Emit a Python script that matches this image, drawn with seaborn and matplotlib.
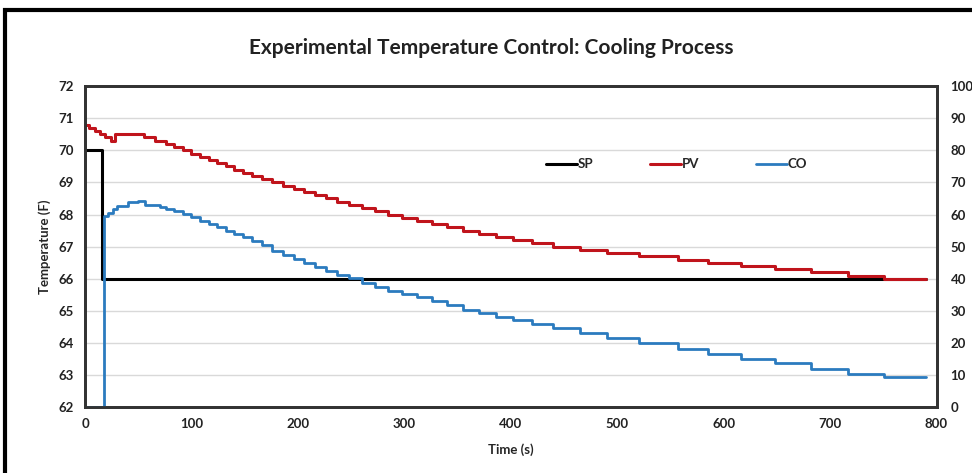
import matplotlib
matplotlib.use("Agg")
import matplotlib.pyplot as plt
import seaborn as sns
import pandas as pd
from matplotlib.lines import Line2D
from matplotlib.patches import Rectangle

# set point (F)
sp_time = [0, 16, 790]
sp_temp = [70.0, 66.0, 66.0]

# process variable (F) at each 0.1 F step
pv_time = [0, 4, 9, 14, 19, 24, 28, 55, 66, 76, 84, 92, 100, 108, 116, 124, 132, 140,
           148, 157, 166, 176, 186, 196, 206, 216, 226, 237, 248, 260, 272, 285, 298,
           312, 326, 340, 355, 370, 386, 402, 420, 440, 465, 490, 520, 557, 585,
           616, 648, 682, 717, 751, 790]
pv_temp = [70.8, 70.7, 70.6, 70.5, 70.4, 70.3, 70.5, 70.4, 70.3, 70.2, 70.1, 70.0,
           69.9, 69.8, 69.7, 69.6, 69.5, 69.4, 69.3, 69.2, 69.1, 69.0, 68.9, 68.8,
           68.7, 68.6, 68.5, 68.4, 68.3, 68.2, 68.1, 68.0, 67.9, 67.8, 67.7, 67.6,
           67.5, 67.4, 67.3, 67.2, 67.1, 67.0, 66.9, 66.8, 66.7, 66.6, 66.5,
           66.4, 66.3, 66.2, 66.1, 66.0, 66.0]

# controller output (%)
co_time = [0, 18, 22, 26, 30, 40, 50, 56, 70, 76, 84, 92, 100, 108, 116, 124, 132, 140,
           148, 157, 166, 176, 186, 196, 206, 216, 226, 237, 248, 260, 272, 285, 298,
           312, 326, 340, 355, 370, 386, 402, 420, 440, 465, 490, 520, 557,
           585, 616, 648, 682, 717, 751, 790]
co_out = [0, 59.7, 60.5, 61.8, 62.8, 63.8, 64.3, 63.0, 62.5, 61.8, 61.0, 60.2, 59.2,
          58.1, 57.0, 56.0, 55.0, 53.9, 52.9, 51.9, 50.4, 48.7, 47.4, 46.2, 44.9, 43.6,
          42.5, 41.3, 40.2, 38.7, 37.3, 36.2, 35.2, 34.2, 33.0, 31.8, 30.3, 29.2, 28.2,
          27.2, 26.0, 24.6, 23.2, 21.6, 20.0, 18.0, 16.5, 15.0, 13.7, 12.0,
          10.5, 9.3, 9.3]

sp = pd.DataFrame({"Time": sp_time, "Temp": sp_temp})
pv = pd.DataFrame({"Time": pv_time, "Temp": pv_temp})
co = pd.DataFrame({"Time": co_time, "CO": co_out})

sns.set_style("white")
plt.rcParams["font.family"] = ["Lato", "DejaVu Sans"]

fig = plt.figure(figsize=(9.72, 4.73), dpi=100)
ax = fig.add_axes([0.0875, 0.139, 0.876, 0.679])
ax2 = ax.twinx()

black = "#000000"
red = "#c0141c"
blue = "#2b7bbf"

sns.lineplot(data=sp, x="Time", y="Temp", ax=ax, color=black, lw=2.2,
             drawstyle="steps-post")
sns.lineplot(data=pv, x="Time", y="Temp", ax=ax, color=red, lw=2.2,
             drawstyle="steps-post")
sns.lineplot(data=co, x="Time", y="CO", ax=ax2, color=blue, lw=2.0,
             drawstyle="steps-post")

ax.set_xlim(0, 800)
ax.set_ylim(62, 72)
ax2.set_ylim(0, 100)
ax.set_xticks(range(0, 801, 100))
ax.set_yticks(range(62, 73))
ax2.set_yticks(range(0, 101, 10))
ax.yaxis.grid(True, color="#d9d9d9", lw=1)
ax.set_axisbelow(True)

for a in (ax, ax2):
    a.tick_params(length=0, labelsize=9.5, colors="#222222")
    for lab in a.get_xticklabels() + a.get_yticklabels():
        lab.set_fontweight("bold")
    for s in a.spines.values():
        s.set_color("#333333")
        s.set_linewidth(2)
ax.tick_params(axis="x", pad=8)
ax.tick_params(axis="y", pad=8)
ax2.tick_params(axis="y", pad=10)

ax.set_xlabel("Time (s)", fontsize=9.5, fontweight="bold", labelpad=9)
ax.set_ylabel("Temperature (F)", fontsize=9.5, fontweight="bold", labelpad=5)
ax2.set_ylabel("")

fig.text(0.505, 0.898, "Experimental Temperature Control: Cooling Process",
         ha="center", va="center", fontsize=15, fontweight="bold", color="#222222")

handles = [Line2D([], [], color=black, lw=2.2), Line2D([], [], color=red, lw=2.2),
           Line2D([], [], color=blue, lw=2.0)]
leg = ax2.legend(handles, ["SP", "PV", "CO"], ncol=3, frameon=False,
                 loc="center", bbox_to_anchor=(0.695, 0.757), handlelength=2.3,
                 handletextpad=0.1, columnspacing=4.3,
                 prop={"size": 9.5, "weight": "bold"})

# thick outer frame of the chart object
fig.patches.append(Rectangle((5 / 972, -0.1), 1.1, 1.1 - 10 / 473,
                             transform=fig.transFigure, fill=False,
                             edgecolor="black", lw=3))

fig.savefig("out.png", dpi=100)
